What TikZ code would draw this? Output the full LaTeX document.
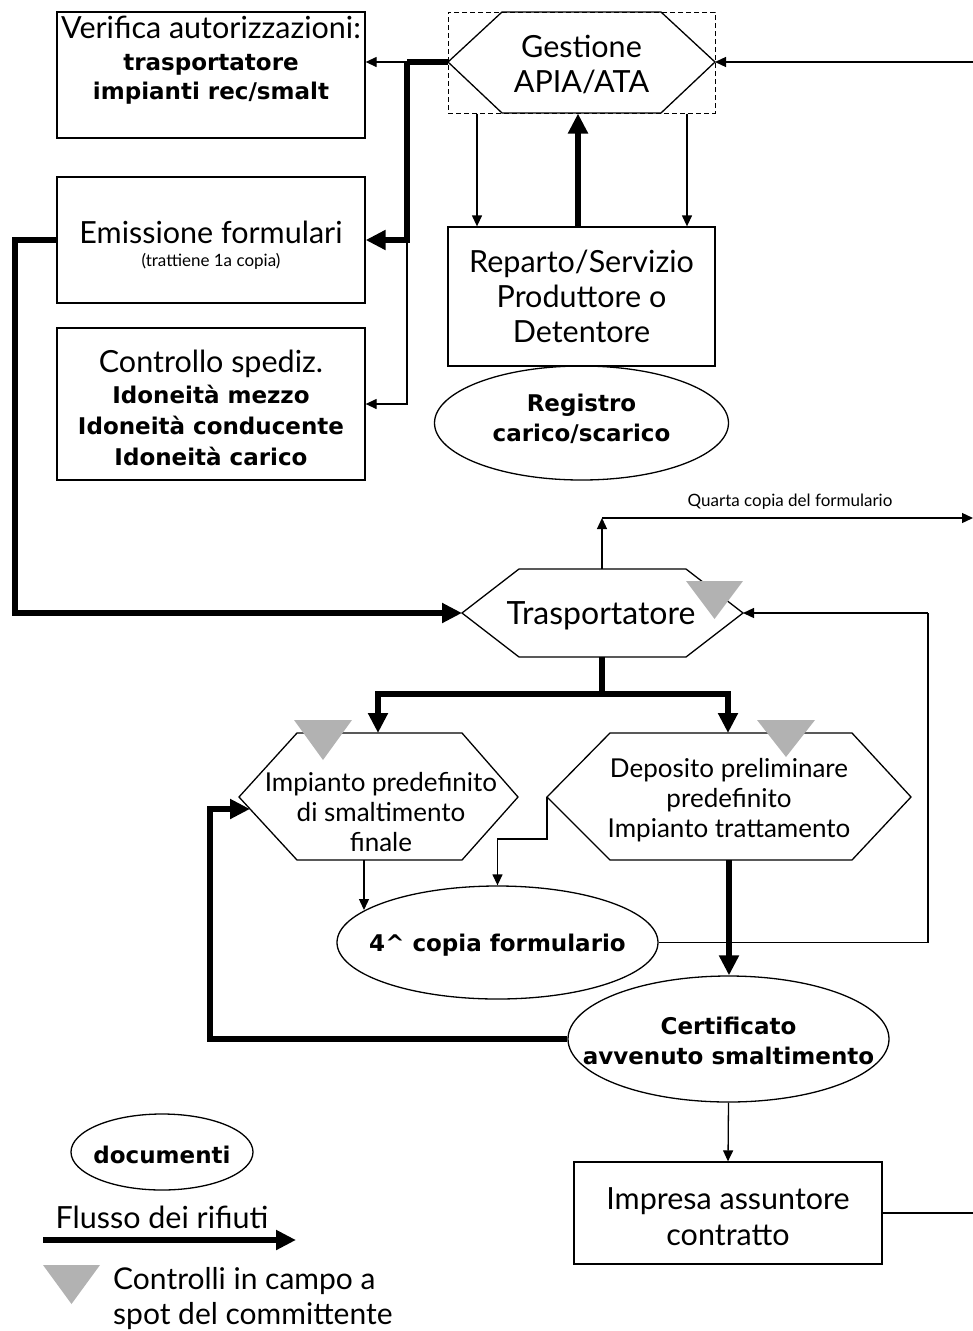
\documentclass[tikz,border=0pt]{standalone}
\usepackage{fontspec}
\setmainfont{Lato}
\newfontfamily\heavyfont{DejaVu Sans}
\usetikzlibrary{arrows.meta,shapes.geometric}
\definecolor{ctrlgray}{RGB}{178,178,178}

\begin{document}
\begin{tikzpicture}[x=1pt,y=-1pt,
  shapeline/.style={draw=black,line width=1.3pt},
  box/.style={shapeline,rectangle,inner sep=0pt,align=center},
  doc/.style={shapeline,ellipse,inner sep=0pt,align=center},
  lbl/.style={inner sep=0pt,align=center},
  big/.style={font=\fontsize{30.5}{35}\selectfont},
  mid/.style={font=\fontsize{26}{30}\selectfont},
  boldmid/.style={font=\fontsize{23}{30}\selectfont\heavyfont\bfseries},
  tiny/.style={font=\fontsize{17}{19}\selectfont},
  link/.style={line width=1.3pt,-{Triangle[length=11pt,width=10pt]}},
  plainlink/.style={line width=1.3pt},
  flow/.style={line width=6pt,-{Triangle[length=20pt,width=19pt]}},
  plainflow/.style={line width=6pt},
  ctrlmark/.style={fill=ctrlgray,draw=none}
]
\newcommand{\boldline}[1]{{\fontsize{23}{30}\selectfont\heavyfont\bfseries #1}}
\useasboundingbox (0,0) rectangle (973,1331);

% ---------- upper left boxes ----------
\node[box,minimum width=308pt,minimum height=126pt] (verif) at (211,75) {};
\node[lbl,big,anchor=north] (verift) at (211,16)
  {Verifica autorizzazioni:\\[-3pt]\boldline{trasportatore}\\[-6pt]\boldline{impianti rec/smalt}};
\node[box,minimum width=308pt,minimum height=126pt] (emis) at (211,240) {};
\node[lbl,big] (emist) at (211,245)
  {Emissione formulari\\[-12pt]{\fontsize{17}{19}\selectfont (trattiene 1a copia)}};
\node[box,minimum width=308pt,minimum height=152pt] (contr) at (211,404) {};
\node[lbl,font=\fontsize{23}{31}\selectfont] (contrt) at (211,408)
  {{\fontsize{30.5}{31}\selectfont Controllo spediz.}\\
   \boldline{Idoneità mezzo}\\
   \boldline{Idoneità conducente}\\
   \boldline{Idoneità carico}};

% ---------- Gestione APIA/ATA ----------
\node[draw=black,line width=1pt,dash pattern=on 5pt off 3pt,minimum width=267pt,minimum height=101pt,inner sep=0pt]
  (gesbox) at (581.5,62.5) {};
\coordinate (ges-w) at (448,62);
\coordinate (ges-e) at (715,62);
\draw[shapeline] (ges-w) -- (502,12) -- (661,12) -- (ges-e) -- (661,113) -- (502,113) -- cycle;
\node[lbl,big] (ges) at (581.5,65) {Gestione\\APIA/ATA};

% ---------- Reparto / Registro ----------
\node[box,big,minimum width=267pt,minimum height=139pt] (rep) at (581.5,296.5)
  {Reparto/Servizio\\Produttore o\\Detentore};
\node[doc,minimum width=294pt,minimum height=114pt] (reg) at (581.5,423) {};
\node[lbl,boldmid] (regt) at (581.5,419) {Registro\\carico/scarico};

% ---------- Trasportatore ----------
\coordinate (tra-w) at (462,613);
\coordinate (tra-e) at (743,613);
\coordinate (tra-n) at (602,569);
\coordinate (tra-s) at (602,657);
\draw[shapeline] (tra-w) -- (519,569) -- (686,569) -- (tra-e) -- (686,657) -- (519,657) -- cycle;
\node[lbl,font=\fontsize{32}{36}\selectfont] (tra) at (601,616) {Trasportatore};

% ---------- Impianto predefinito ----------
\coordinate (imp-w) at (239,797);
\coordinate (imp-e) at (518,797);
\coordinate (imp-n) at (378,733);
\coordinate (imp-s) at (364,860);
\coordinate (imp-in) at (250,809);
\draw[shapeline] (imp-w) -- (297,733) -- (462,733) -- (imp-e) -- (462,860) -- (297,860) -- cycle;
\node[lbl,mid] (imp) at (381,812) {Impianto predefinito\\di smaltimento\\finale};

% ---------- Deposito preliminare ----------
\coordinate (dep-w) at (547,797);
\coordinate (dep-e) at (911,797);
\coordinate (dep-n) at (728,733);
\coordinate (dep-s) at (729,860);
\draw[shapeline] (dep-w) -- (610,733) -- (852,733) -- (dep-e) -- (852,860) -- (610,860) -- cycle;
\node[lbl,mid] (dep) at (729,800) {Deposito preliminare\\predefinito\\Impianto trattamento};

% ---------- documents ----------
\node[doc,minimum width=321pt,minimum height=113pt] (foc) at (497.5,942.5) {};
\node[lbl,boldmid] (foct) at (497.5,945) {4\textasciicircum{} copia formulario};
\coordinate (foc-in) at (364,910);
\node[doc,minimum width=321pt,minimum height=126pt] (cert) at (728.5,1039) {};
\node[lbl,boldmid] (certt) at (728.5,1041) {Certificato\\avvenuto smaltimento};
\node[box,minimum width=308pt,minimum height=102pt] (impr) at (728,1213) {};
\node[lbl,font=\fontsize{30.5}{36}\selectfont] (imprt) at (728,1217) {Impresa assuntore\\contratto};

% ---------- control marks ----------
\fill[ctrlmark] (686,581) -- (743,581) -- (714.5,619) -- cycle;
\fill[ctrlmark] (294,720) -- (352,720) -- (323,760) -- cycle;
\fill[ctrlmark] (757,720) -- (815,720) -- (786,757) -- cycle;

% ---------- connectors: Gestione ----------
\coordinate (j-ges) at (407,62);
\coordinate (j-emis) at (407,240);
\coordinate (r-top) at (973,62);
\draw[link] (j-ges) -- (verif.east |- j-ges);
\draw[plainflow] (ges-w) -- (j-ges);
\draw[flow] (j-ges) -- (j-emis) -- (emis.east);
\draw[link] (j-emis) |- (contr.east);
\draw[link] (r-top) -- (ges-e);
\draw[link] (gesbox.south -| 477,0) -- (rep.north -| 477,0);
\draw[link] (gesbox.south -| 687,0) -- (rep.north -| 687,0);
\draw[flow] (rep.north -| 578,0) -- (gesbox.south -| 578,0);

% ---------- connectors: Trasportatore ----------
\coordinate (j-left) at (15,240);
\draw[flow] (emis.west) -- (j-left) |- (tra-w);
\coordinate (q-corner) at (602,518);
\coordinate (q-end) at (973,518);
\draw[link] (tra-n) -- (q-corner);
\draw[link] (q-corner) -- (q-end);
\node[lbl,tiny] (qlbl) at (790,502) {Quarta copia del formulario};
\coordinate (j-split) at (602,694);
\draw[plainflow] (tra-s) -- (j-split);
\draw[flow] (j-split) -| (imp-n);
\draw[flow] (j-split) -| (dep-n);

% ---------- connectors: lower part ----------
\draw[link] (imp-s) -- (foc-in);
\draw[link] (dep-w) -- ++(0,42) -| (foc.north);
\draw[flow] (dep-s) -- (cert.north -| dep-s);
\coordinate (r-ret) at (928,942.5);
\draw[plainlink] (foc.east) -- (r-ret) -- (r-ret |- tra-e);
\draw[link] (r-ret |- tra-e) -- (tra-e);
\draw[flow] (cert.west) -- (210,1039) |- (imp-in);
\draw[link] (cert.south) -- (impr.north);
\coordinate (r-bot) at (973,1213);
\draw[plainlink] (impr.east) -- (r-bot);

% ---------- legend ----------
\node[doc,minimum width=182pt,minimum height=76pt] (legdoc) at (162,1152) {};
\node[lbl,boldmid] (legdoct) at (162,1155) {documenti};
\node[lbl,big] (legflow) at (162,1217) {Flusso dei rifiuti};
\coordinate (lf-a) at (43,1240);
\coordinate (lf-b) at (296,1240);
\draw[flow] (lf-a) -- (lf-b);
\fill[ctrlmark] (43,1265) -- (100,1265) -- (71.5,1304) -- cycle;
\node[lbl,font=\fontsize{30}{35}\selectfont,anchor=west,align=left] (legctrl) at (113,1299)
  {Controlli in campo a\\spot del committente};
\end{tikzpicture}
\end{document}
